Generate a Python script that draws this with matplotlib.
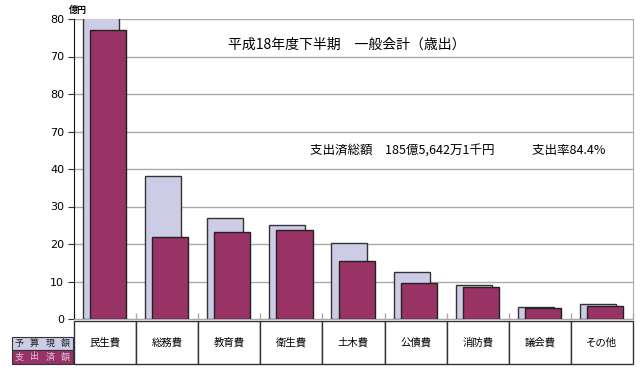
import matplotlib.pyplot as plt
import matplotlib.patches as mpatches
import matplotlib.transforms as mtrans
import numpy as np

plt.rcParams['font.family'] = ['Noto Sans CJK JP', 'DejaVu Sans']

categories = ['民生費', '総務費', '教育費', '衛生費', '土木費', '公債費', '消防費', '議会費', 'その他']
budget = [95.0, 38.1, 26.9, 25.0, 20.3, 12.5, 9.0, 3.2, 4.0]
spent = [77.1, 21.9, 23.3, 23.7, 15.4, 9.5, 8.5, 2.9, 3.5]
ytick_vals = [0, 10, 20, 30, 40, 50, 60, 70, 80]
ytick_text = ['0', '10', '20', '30', '40', '70', '80', '70', '80']
row_names = ['予算現額', '支出済額']

c_budget = '#cccce6'
c_spent = '#993366'

W, H = 640, 373
fig = plt.figure(figsize=(6.4, 3.73), dpi=100)
ax = fig.add_axes([74 / W, 1 - 319 / H, (633 - 74) / W, 300 / H])

x = np.arange(len(categories))
bw = 0.58
ax.bar(x - 0.065, budget, bw, color=c_budget, edgecolor='#333333', linewidth=1.0, zorder=2)
ax.bar(x + 0.05, spent, bw, color=c_spent, edgecolor='#222222', linewidth=1.0, zorder=3)

ax.set_xlim(-0.5, len(categories) - 0.5)
ax.set_ylim(0, 80)
ax.set_yticks(ytick_vals)
ax.set_yticklabels(ytick_text, fontsize=8, family=['Liberation Sans Narrow', 'DejaVu Sans'])
ax.yaxis.grid(True, color='#aaaaaa', linewidth=1.0, zorder=0)
ax.set_axisbelow(True)
ax.tick_params(axis='y', length=4, width=0.8, color='#333333', pad=3)
ax.set_xticks(np.arange(len(categories) + 1) - 0.5)
ax.set_xticklabels([])
ax.tick_params(axis='x', direction='in', length=4, width=1, color='#aaaaaa')
ax.spines['top'].set_visible(False)
ax.spines['right'].set_color('#aaaaaa')
ax.spines['bottom'].set_color('#aaaaaa')
ax.spines['left'].set_color('#111111')

# texts
fig.text(347 / W, 1 - 45 / H, '平成18年度下半期　一般会計（歳出）', ha='center', va='center', fontsize=10)
fig.text(458 / W, 1 - 151 / H, '支出済総額　185億5,642万1千円　　　支出率84.4%', ha='center', va='center', fontsize=9)
fig.text(78 / W, 1 - 10 / H, '億円', ha='center', va='center', fontsize=6.5, fontweight='bold')

# bottom table
tr = mtrans.blended_transform_factory(ax.transData, fig.transFigure)
top, bot = 1 - 321 / H, 1 - 364 / H
for i, name in enumerate(categories):
    r = mpatches.Rectangle((i - 0.5, bot), 1, top - bot, transform=tr, facecolor='white',
                           edgecolor='#333333', linewidth=1.0, clip_on=False)
    fig.add_artist(r)
    fig.text(i, (top + bot) / 2, name, transform=tr, fontsize=7.5, ha='center', va='center')

rows_y = [(336.5, 350), (350, 364)]
for (y0, y1), name, fc, tc in zip(rows_y, row_names, [c_budget, c_spent], ['#222222', '#d8c8e0']):
    r = mpatches.Rectangle((12 / W, 1 - y1 / H), (73 - 12) / W, (y1 - y0) / H, transform=fig.transFigure,
                           facecolor=fc, edgecolor='#333333', linewidth=0.8)
    fig.add_artist(r)
    for k, ch in enumerate(name):
        fig.text((19 + k * 15.5) / W, 1 - (y0 + y1) / 2 / H, ch, ha='center', va='center',
                 fontsize=6.5, color=tc)

fig.savefig('out.png', dpi=100)
